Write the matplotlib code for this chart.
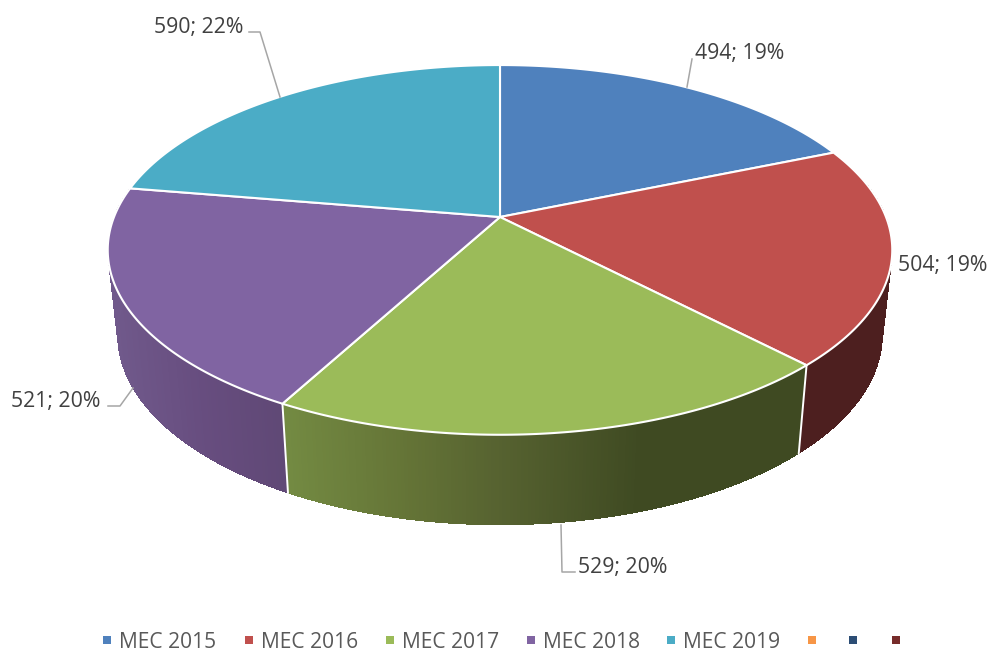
import numpy as np
import matplotlib
matplotlib.use("Agg")
import matplotlib.pyplot as plt
from matplotlib.collections import PolyCollection
from matplotlib.colors import to_rgb

categories = ['MEC 2015', 'MEC 2016', 'MEC 2017', 'MEC 2018', 'MEC 2019']
values = [494, 504, 529, 521, 590]
percents = [19, 19, 20, 20, 22]
colors = ['#4f81bd', '#c0504d', '#9bbb59', '#8064a2', '#4bacc6']
empty_colors = ['#f79646', '#2c4d75', '#772c2a']

plt.rcParams['font.family'] = ['Open Sans', 'DejaVu Sans']

# pixel layout of the tilted pie, measured on the reference
CX, CY = 500, 217
K = 0.178


def top_xy(theta):
    # theta is clockwise from 12 o'clock, perspective squeezes the far side
    x, y = np.sin(theta), np.cos(theta)
    d = 1 + K * y
    return CX + 386 * x / d, CY - 179 * y / d


def bottom_xy(theta):
    px, py = top_xy(theta)
    return 500 + 0.9745 * (px - 500), 335 + 1.027 * (py - 250)


def wall_color(i, x):
    stops = {
        1: ([800, 890], ['#4d1f1f', '#4d1f1f']),
        2: ([285, 400, 500, 640, 800], ['#738a42', '#657537', '#566230', '#3f4a22', '#3f4a22']),
        3: ([110, 200, 287], ['#70598b', '#674d7f', '#5f4875']),
    }
    xs, cs = stops[i]
    rgb = np.array([to_rgb(c) for c in cs])
    return tuple(np.interp(x, xs, rgb[:, k]) for k in range(3))


fig = plt.figure(figsize=(9.91, 6.51), dpi=100)
ax = fig.add_axes([0, 0, 1, 1])
ax.set_xlim(0, 991)
ax.set_ylim(651, 0)
ax.axis('off')

edges = np.concatenate([[0], np.cumsum(values)]) / sum(values) * 2 * np.pi
wall_start, wall_end = np.radians(79), np.radians(279)

# side walls first, the top covers their upper edge
for i in range(len(values)):
    a = max(edges[i], wall_start)
    b = min(edges[i + 1], wall_end)
    if a >= b:
        continue
    th = np.linspace(a, b, 160)
    tx, ty = top_xy(th)
    bx, by = bottom_xy(th)
    quads = []
    fc = []
    for j in range(len(th) - 1):
        quads.append([(tx[j], ty[j]), (tx[j + 1], ty[j + 1]), (bx[j + 1], by[j + 1]), (bx[j], by[j])])
        fc.append(wall_color(i, (tx[j] + tx[j + 1]) / 2))
    # solid base gives the smooth outer edge, the strips on top carry the gradient
    ax.fill(np.r_[tx, bx[::-1]], np.r_[ty, by[::-1]], color=fc[len(fc) // 2], lw=0, zorder=1)
    ax.add_collection(PolyCollection(quads, facecolors=fc, edgecolors='none', antialiased=False, zorder=1.5))

for e in edges[1:]:
    if wall_start < e < wall_end:
        x0, y0 = top_xy(e)
        x1, y1 = bottom_xy(e)
        ax.plot([x0, x1], [y0, y1], color='white', lw=1.4, zorder=2)

# top of the pie
for i in range(len(values)):
    th = np.linspace(edges[i], edges[i + 1], 200)
    x, y = top_xy(th)
    ax.fill(np.r_[CX, x], np.r_[CY, y], facecolor=colors[i], edgecolor='white', lw=1.5,
            joinstyle='round', zorder=3)

# data labels with their leader lines
label_pos = [(695, 54), (898, 266), (578, 567), (11, 402), (154, 27)]
leaders = [
    [(692, 59), (687, 87)],
    None,
    [(561, 525), (562, 572), (575, 572)],
    [(108, 406), (120, 406), (133, 388)],
    [(249, 32), (260, 32), (280, 97)],
]
for v, p, pos, lead in zip(values, percents, label_pos, leaders):
    ax.text(pos[0], pos[1], f'{v}; {p}%', fontsize=15.3, color='#404040', va='center', ha='left', zorder=5)
    if lead:
        ax.plot(*zip(*lead), color='#a6a6a6', lw=1.1, zorder=4)

# legend, the last three entries have no name
legend_x = [107, 249, 390, 531, 671, 812, 853, 896]
legend_names = categories + ['', '', '']
legend_colors = colors + empty_colors
for x, name, c in zip(legend_x, legend_names, legend_colors):
    ax.scatter([x], [640], marker='s', s=26, color=c, linewidths=0, zorder=5)
    if name:
        ax.text(x + 12, 642, name, fontsize=15.1, color='#595959', va='center', ha='left', zorder=5)

fig.savefig('out.png', dpi=100, facecolor='white')
